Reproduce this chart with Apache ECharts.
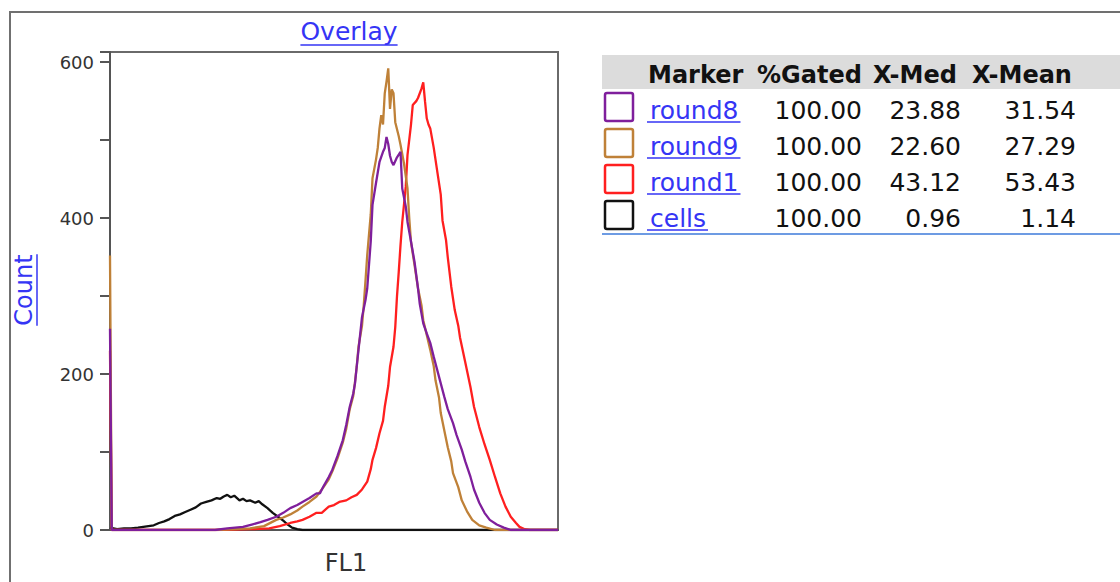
<!DOCTYPE html>
<html>
<head>
<meta charset="utf-8">
<script src="https://cdn.jsdelivr.net/npm/echarts@6/dist/echarts.min.js"></script>
<style>
html,body{margin:0;padding:0;background:#fff;}
#chart{width:1120px;height:582px;}
</style>
</head>
<body>
<div id="chart"></div>
<script>
// ---- data (FL1 channel, count) ----
var cellsData = [[0,3],[4,1],[8,2],[12,2],[16,3],[19,4],[22,5],[25,6],[28,9],[31,11],[34,14],[37,18],[40,20],[43,23],[46,26],[49,29],[52,34],[55,36],[58,38],[61,41],[63,40],[65,43],[67,45],[69,42],[71,44],[74,38],[76,40],[78,37],[80,38],[83,35],[85,37],[87,33],[90,28],[93,22],[96,17],[99,12],[101,8],[104,3],[107,1],[110,0],[256,0]];
var round1Data = [[0,230],[1,0],[60,0],[80,1],[91,2],[97,5],[103,9],[107,11],[110,13],[114,17],[118,22],[121,22],[125,30],[128,32],[131,36],[135,38],[138,42],[141,45],[144,52],[147,62],[149,78],[150,90],[152,105],[154,124],[156,140],[157,158],[159,185],[160,209],[162,235],[163,260],[164,300],[165,331],[166,365],[167,395],[169,440],[170,481],[172,520],[173,545],[175,550],[176,554],[178,566],[179,574],[180,550],[181,528],[182,520],[183,515],[185,490],[187,460],[189,430],[190,397],[192,372],[193,350],[195,312],[197,282],[199,262],[200,247],[203,215],[206,183],[208,158],[211,132],[214,110],[217,90],[220,68],[223,47],[226,30],[229,17],[232,9],[234,4],[237,1],[240,0],[256,0]];
var round9Data = [[0,352],[1,0],[60,0],[80,2],[88,5],[95,13],[99,16],[103,20],[107,25],[110,30],[114,36],[118,43],[122,55],[125,65],[127,75],[130,92],[133,112],[135,130],[137,155],[139,172],[140,190],[141,210],[142,235],[144,262],[145,288],[146,320],[147,353],[149,405],[150,451],[152,475],[153,490],[154,515],[155,532],[156,520],[157,560],[158,575],[159,592],[160,540],[161,565],[162,560],[163,523],[165,505],[166,494],[168,470],[170,438],[171,400],[172,369],[174,340],[176,310],[178,288],[179,269],[181,250],[183,231],[185,210],[186,192],[188,170],[189,150],[191,128],[193,106],[195,88],[196,73],[199,55],[201,38],[204,24],[207,13],[211,6],[215,3],[220,0],[256,0]];
var round8Data = [[0,258],[1,0],[60,0],[67,2],[76,4],[81,7],[86,10],[90,13],[95,17],[99,22],[103,28],[107,32],[110,36],[114,41],[118,47],[120,47],[122,56],[125,68],[127,77],[130,95],[133,115],[135,135],[137,158],[139,175],[140,188],[141,210],[142,231],[144,273],[146,295],[147,310],[149,370],[150,417],[152,445],[154,472],[156,485],[157,490],[158,504],[159,495],[160,480],[161,472],[162,468],[164,478],[166,485],[167,438],[169,415],[170,395],[172,370],[174,344],[176,310],[177,290],[179,265],[181,252],[183,240],[185,222],[187,205],[189,188],[191,171],[193,155],[196,137],[198,122],[201,103],[203,88],[206,68],[208,52],[211,35],[214,22],[217,13],[221,7],[225,3],[229,0],[256,0]];

// ---- table ----
var headers = ['Marker', '%Gated', 'X-Med', 'X-Mean'];
var markerNames = ['round8', 'round9', 'round1', 'cells'];
var gatedVals = ['100.00', '100.00', '100.00', '100.00'];
var xMedVals = ['23.88', '22.60', '43.12', '0.96'];
var xMeanVals = ['31.54', '27.29', '53.43', '1.14'];
var yTickLabels = [0, 200, 400, 600];

var titleText = 'Overlay';
var xName = 'FL1';
var yName = 'Count';

// ---- styles ----
var seriesColors = {round8: '#7f1f9c', round9: '#bf8138', round1: '#ff1f1f', cells: '#111111'};
var linkBlue = '#3535f5';
var FONT = 'DejaVu Sans';

var ctx = document.createElement('canvas').getContext('2d');
function tw(text, size, weight) {
  ctx.font = (weight || 'normal') + ' ' + size + 'px "' + FONT + '"';
  return ctx.measureText(text).width;
}

var chart = echarts.init(document.getElementById('chart'), null, {renderer: 'svg'});

var graphics = [];
// outer frame
graphics.push({type: 'rect', shape: {x: 10, y: 12, width: 1200, height: 700}, style: {fill: 'none', stroke: '#707070', lineWidth: 2}, z: 1});
// title
var titleSize = 25, titleCx = 349, titleY = 31;
var tW = tw(titleText, titleSize);
graphics.push({type: 'text', x: titleCx, y: titleY, style: {text: titleText, fill: linkBlue, font: 'normal ' + titleSize + 'px "' + FONT + '"', textAlign: 'center', textVerticalAlign: 'middle'}});
graphics.push({type: 'line', shape: {x1: titleCx - tW / 2, y1: titleY + 14, x2: titleCx + tW / 2, y2: titleY + 14}, style: {stroke: linkBlue, lineWidth: 1.5}});
// y name (Count) rotated
var ySize = 24, yCx = 24, yCy = 290;
var yW = tw(yName, ySize);
graphics.push({type: 'text', x: yCx, y: yCy, rotation: Math.PI / 2, style: {text: yName, fill: linkBlue, font: 'normal ' + ySize + 'px "' + FONT + '"', textAlign: 'center', textVerticalAlign: 'middle'}});
graphics.push({type: 'line', shape: {x1: yCx + 13, y1: yCy - yW / 2, x2: yCx + 13, y2: yCy + yW / 2}, style: {stroke: linkBlue, lineWidth: 1.5}});
// x name
graphics.push({type: 'text', x: 346, y: 563, style: {text: xName, fill: '#333', font: 'normal 24px "' + FONT + '"', textAlign: 'center', textVerticalAlign: 'middle'}});

// table header band
graphics.push({type: 'rect', shape: {x: 602, y: 55, width: 530, height: 34}, style: {fill: '#dcdcdc'}});
var headerLefts = [648, 757, 873, 972];
headers.forEach(function (h, i) {
  graphics.push({type: 'text', x: headerLefts[i], y: 75, style: {text: h, fill: '#111', font: 'bold 24px "' + FONT + '"', textAlign: 'left', textVerticalAlign: 'middle'}});
});
var rowY = [110, 146, 182, 218];
var boxY = [107, 143, 179, 215];
markerNames.forEach(function (n, i) {
  var c = seriesColors[n];
  graphics.push({type: 'rect', shape: {x: 605, y: boxY[i] - 14, width: 28, height: 28, r: 2}, style: {fill: '#fff', stroke: c, lineWidth: 2.5}});
  var w = tw(n, 25);
  graphics.push({type: 'text', x: 650, y: rowY[i], style: {text: n, fill: linkBlue, font: 'normal 25px "' + FONT + '"', textAlign: 'left', textVerticalAlign: 'middle'}});
  graphics.push({type: 'line', shape: {x1: 647, y1: rowY[i] + 12, x2: 650 + w + 2, y2: rowY[i] + 12}, style: {stroke: linkBlue, lineWidth: 1.5}});
  graphics.push({type: 'text', x: 862, y: rowY[i], style: {text: gatedVals[i], fill: '#111', font: 'normal 25px "' + FONT + '"', textAlign: 'right', textVerticalAlign: 'middle'}});
  graphics.push({type: 'text', x: 961, y: rowY[i], style: {text: xMedVals[i], fill: '#111', font: 'normal 25px "' + FONT + '"', textAlign: 'right', textVerticalAlign: 'middle'}});
  graphics.push({type: 'text', x: 1076, y: rowY[i], style: {text: xMeanVals[i], fill: '#111', font: 'normal 25px "' + FONT + '"', textAlign: 'right', textVerticalAlign: 'middle'}});
});
graphics.push({type: 'line', shape: {x1: 602, y1: 234, x2: 1120, y2: 234}, style: {stroke: '#6d9be3', lineWidth: 2}});

function mkSeries(name, data) {
  return {name: name, type: 'line', data: data, showSymbol: false, symbol: 'none', silent: true,
    lineStyle: {color: seriesColors[name], width: 2.3}, animation: false, z: 3};
}

chart.setOption({
  animation: false,
  backgroundColor: '#fff',
  grid: {left: 110, top: 52, width: 448, height: 478, show: true, borderColor: '#6a6a6a', borderWidth: 2, backgroundColor: 'transparent'},
  xAxis: {type: 'value', min: 0, max: 256, axisLine: {show: true, lineStyle: {color: '#555', width: 2}}, axisTick: {show: false}, axisLabel: {show: false}, splitLine: {show: false}},
  yAxis: {type: 'value', min: 0, max: 613, interval: 100,
    axisLine: {show: true, lineStyle: {color: '#555', width: 2}},
    axisTick: {show: true, length: 10, lineStyle: {color: '#555', width: 2}},
    axisLabel: {show: true, margin: 16, color: '#333', fontSize: 18, fontFamily: FONT,
      formatter: function (v) { return yTickLabels.indexOf(v) >= 0 ? String(v) : ''; }},
    splitLine: {show: false}},
  series: [mkSeries('cells', cellsData), mkSeries('round1', round1Data), mkSeries('round9', round9Data), mkSeries('round8', round8Data)],
  graphic: graphics
});
</script>
</body>
</html>
